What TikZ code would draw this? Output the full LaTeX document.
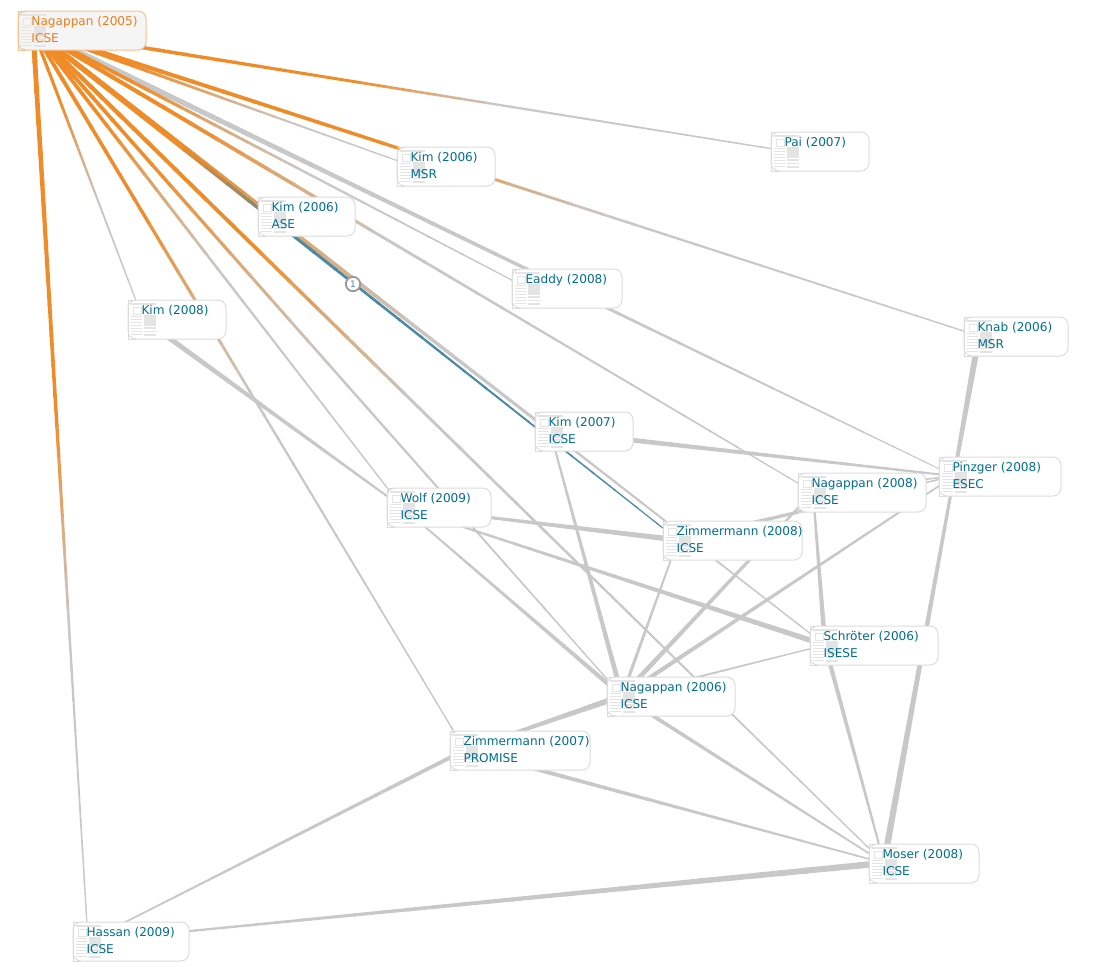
\documentclass[tikz,border=0pt]{standalone}
\usepackage{fontspec}
\setmainfont{DejaVu Sans}
\usepackage{xcolor}
\usepackage{tikz}
\usetikzlibrary{calc,backgrounds}

\definecolor{linegray}{HTML}{C8C8C8}
\definecolor{lineorange}{HTML}{F08C28}
\definecolor{lineteal}{HTML}{4A8BA3}
\definecolor{papertext}{HTML}{006E8F}
\definecolor{paperline}{HTML}{DCDCDC}
\definecolor{iconfill}{HTML}{E4E4E4}
\definecolor{activetext}{HTML}{F07C1A}
\definecolor{activeline}{HTML}{F8C090}

\tikzset{
    hub/.style={inner sep=0pt, outer sep=0pt, minimum size=0pt},
    paperbox/.style={draw=paperline, line width=0.5pt, fill=white, rounded corners=4pt,
        anchor=north west, inner sep=0pt, outer sep=0pt, minimum height=19.5pt},
    activebox/.style={paperbox, draw=activeline, fill=black!4},
    papertag/.style={anchor=north west, inner sep=0pt, outer sep=0pt, align=left,
        text=papertext, font=\fontsize{6.05}{8.5}\selectfont},
    activetag/.style={papertag, text=activetext},
    badge/.style={circle, draw=black!40, line width=0.9pt, fill=white, inner sep=0pt,
        minimum size=7.2pt, text=lineteal, font=\fontsize{4.5}{5}\selectfont}
}

% id, left, top, width, name, venue; box style and text style in the option
\newcommand{\paper}[7][paper]{%
    \node[hub] (#2) at (#3+15,#4+19) {};
    \node[#1box, minimum width=#5*0.5pt] (#2box) at (#3,#4) {};
    \draw[draw=#1line, line width=0.5pt] ([xshift=4pt]#2box.north west) -- (#2box.north west)
        -- (#2box.south west) -- ([xshift=4pt]#2box.south west);
    % little document glyph
    \begin{scope}[shift={(#3,#4)}, line width=0.85pt]
        \draw[iconfill] (3,4) -- (28,4);
        \draw[iconfill, line width=0.5pt] (5,7) rectangle (13,14);
        \fill[iconfill] (16,15) rectangle (28,26);
        \foreach \r in {16.5,19.5,...,36} \draw[iconfill] (3,\r) -- (14,\r);
        \foreach \r in {28,31.5,35} \draw[iconfill] (16,\r) -- (28,\r);
    \end{scope}
    \node[#1tag] (#2tag) at (#3+13.5,#4) {\rule{0pt}{7.25pt}#6\\\rule[-3pt]{0pt}{3pt}#7};
}

% from, to, width at from, width at to (px), colour change starts, ends
\newcommand{\fadeedge}[7][linegray]{%
    \foreach \i in {1,...,30}{%
        \pgfmathsetmacro{\ta}{(\i-1)/30}
        \pgfmathsetmacro{\tb}{min(1,(\i+0.1)/30)}
        \pgfmathsetmacro{\lw}{(#4+(#5-#4)*(\i-0.5)/30)*0.5}
        \pgfmathsetmacro{\mixv}{100*max(0,min(1,((\i-0.5)/30-#6)/(#7-#6)))}
        \draw[line width=\lw pt, color=#1!\mixv!lineorange] ($(#2)!\ta!(#3)$) -- ($(#2)!\tb!(#3)$);
    }%
}
\newcommand{\grayedge}[4]{\fadeedge{#1}{#2}{#3}{#4}{-2}{-1}}

\begin{document}
\begin{tikzpicture}[x=0.5pt, y=-0.5pt]
    \useasboundingbox (0,0) rectangle (1097,966);

    % Papers
    \paper[active]{nagfive}{18}{11}{128}{Nagappan (2005)}{ICSE}
    \paper{pai}{771}{132}{98}{Pai (2007)}{}
    \paper{kimmsr}{397}{147}{98}{Kim (2006)}{MSR}
    \paper{kimase}{258}{197}{97}{Kim (2006)}{ASE}
    \paper{eaddy}{512}{269}{110}{Eaddy (2008)}{}
    \paper{kimeight}{128}{300}{98}{Kim (2008)}{}
    \paper{knab}{964}{317}{104}{Knab (2006)}{MSR}
    \paper{kimseven}{535}{412}{98}{Kim (2007)}{ICSE}
    \paper{pinzger}{939}{457}{122}{Pinzger (2008)}{ESEC}
    \paper{nageight}{798}{473}{128}{Nagappan (2008)}{ICSE}
    \paper{wolf}{387}{488}{104}{Wolf (2009)}{ICSE}
    \paper{zimeight}{663}{521}{139}{Zimmermann (2008)}{ICSE}
    \paper{schroeter}{810}{626}{128}{Schröter (2006)}{ISESE}
    \paper{nagsix}{607}{677}{128}{Nagappan (2006)}{ICSE}
    \paper{zimseven}{450}{731}{140}{Zimmermann (2007)}{PROMISE}
    \paper{moser}{869}{844}{110}{Moser (2008)}{ICSE}
    \paper{hassan}{73}{922}{116}{Hassan (2009)}{ICSE}

    \begin{scope}[on background layer]
        % Gray links
        \grayedge{kimeight}{wolf}{5.5}{1.8}
        \grayedge{kimseven}{pinzger}{5.5}{1.8}
        \grayedge{kimseven}{nagsix}{1.8}{5}
        \grayedge{wolf}{zimeight}{1.8}{5.5}
        \grayedge{wolf}{schroeter}{1.5}{5.5}
        \grayedge{wolf}{nagsix}{1.5}{4.5}
        \grayedge{zimeight}{nagsix}{1.5}{3.5}
        \grayedge{zimeight}{pinzger}{4.5}{1.2}
        \grayedge{nagsix}{nageight}{5}{2}
        \grayedge{nagsix}{pinzger}{4.5}{1.5}
        \grayedge{nagsix}{schroeter}{2.5}{1.2}
        \grayedge{nagsix}{zimseven}{6}{2.5}
        \grayedge{nagsix}{moser}{4}{1.5}
        \grayedge{nageight}{pinzger}{1.5}{1.5}
        \grayedge{nageight}{schroeter}{1.8}{5}
        \grayedge{zimseven}{moser}{4.5}{1.5}
        \grayedge{zimseven}{hassan}{4}{1.3}
        \grayedge{hassan}{moser}{1.5}{6.5}
        \grayedge{knab}{pinzger}{6.5}{3.5}
        \grayedge{pinzger}{moser}{3}{6.5}
        \grayedge{schroeter}{moser}{4.5}{1.8}

        % Links of the selected paper
        \grayedge{nagfive}{pinzger}{6}{0.9}
        \fadeedge{nagfive}{kimase}{5}{3}{0.2}{0.5}
        \fadeedge{nagfive}{kimseven}{5}{2.5}{0.25}{0.6}
        \fadeedge{nagfive}{schroeter}{5}{1.2}{0.2}{0.5}
        \fadeedge[lineteal]{nagfive}{zimeight}{4.5}{1}{0.22}{0.42}
        \fadeedge{nagfive}{pai}{4}{1.3}{0.42}{0.62}
        \fadeedge{nagfive}{knab}{4.5}{1.3}{0.38}{0.6}
        \fadeedge{nagfive}{kimmsr}{4}{1.1}{0.25}{0.7}
        \fadeedge{nagfive}{eaddy}{4}{1.1}{0.2}{0.55}
        \fadeedge{nagfive}{nageight}{4.5}{1.1}{0.2}{0.45}
        \fadeedge{nagfive}{moser}{4.5}{1.2}{0.25}{0.45}
        \fadeedge{nagfive}{nagsix}{4}{1.2}{0.2}{0.5}
        \fadeedge{nagfive}{wolf}{4}{1.1}{0.2}{0.5}
        \fadeedge{nagfive}{zimseven}{4}{1.2}{0.25}{0.5}
        \fadeedge{nagfive}{kimeight}{3.5}{1}{0.25}{0.6}
        \fadeedge{nagfive}{hassan}{5}{1.2}{0.42}{0.65}
    \end{scope}

    % Link count
    \node[badge] (count) at (353,284) {1};
\end{tikzpicture}
\end{document}
